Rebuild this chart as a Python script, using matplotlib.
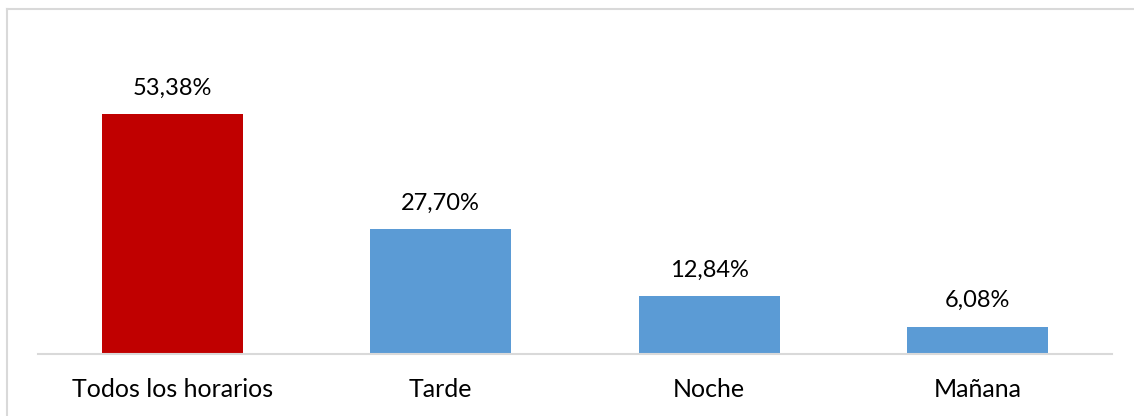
import matplotlib.pyplot as plt
from matplotlib.lines import Line2D

categorias = ['Todos los horarios', 'Tarde', 'Noche', 'Mañana']
valores = [53.38, 27.70, 12.84, 6.08]
etiquetas = ['53,38%', '27,70%', '12,84%', '6,08%']
colores = ['#c00000', '#5b9bd5', '#5b9bd5', '#5b9bd5']

plt.rcParams['font.family'] = ['Lato', 'DejaVu Sans']

fig = plt.figure(figsize=(11.34, 4.16), dpi=100)
ax = fig.add_axes([38 / 1134, 62 / 416, 1074 / 1134, 270 / 416])

x = range(len(categorias))
barras = ax.bar(x, valores, width=0.525, color=colores)

for b, t in zip(barras, etiquetas):
    ax.text(b.get_x() + b.get_width() / 2, b.get_height() + 3.4, t,
            ha='center', va='bottom', fontsize=17, clip_on=False)

ax.set_xlim(-0.5, 3.5)
ax.set_ylim(0, 60)
ax.set_xticks(list(x))
ax.set_xticklabels(categorias, fontsize=18)
ax.tick_params(axis='x', length=0, pad=17)
ax.set_yticks([])
for s in ['top', 'right', 'left']:
    ax.spines[s].set_visible(False)
ax.spines['bottom'].set_color('#d9d9d9')
ax.spines['bottom'].set_linewidth(1.5)

# marco exterior del grafico
fig.add_artist(Line2D([7 / 1134, 7 / 1134], [0, 1 - 9 / 416], color='#d9d9d9', lw=1.5))
fig.add_artist(Line2D([7 / 1134, 1], [1 - 9 / 416, 1 - 9 / 416], color='#d9d9d9', lw=1.5))

plt.savefig('out.png', dpi=100)
